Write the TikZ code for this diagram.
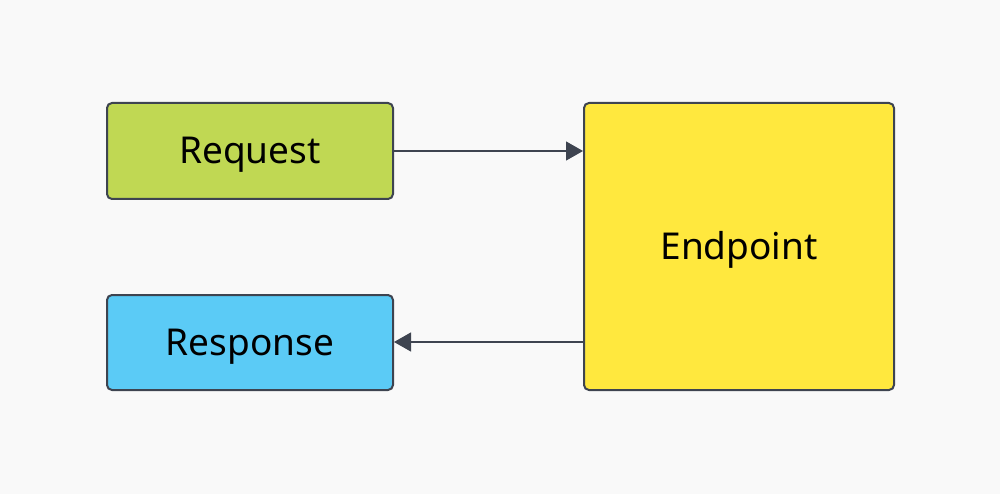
\documentclass[tikz,border=0pt]{standalone}
\usepackage{fontspec}
\setmainfont{Noto Sans}
\usetikzlibrary{arrows.meta}
\definecolor{bg}{HTML}{F9F9F9}
\definecolor{edge}{HTML}{3E4450}
\definecolor{reqfill}{HTML}{C0D853}
\definecolor{resfill}{HTML}{5BCBF6}
\definecolor{endfill}{HTML}{FFE83E}
\tikzset{
  box/.style={draw=edge, line width=2pt, rounded corners=5pt, inner sep=0pt, anchor=north west, font=\fontsize{37}{44}\selectfont, text=black, text height=26pt, text depth=0pt},
  conn/.style={draw=edge, line width=1.2pt, -{Triangle[length=17pt,width=19pt]}}
}
\begin{document}
\begin{tikzpicture}[x=1pt,y=-1pt]
\fill[bg] (0,0) rectangle (1000,494);
\useasboundingbox (0,0) rectangle (1000,494);
\node[box, fill=reqfill, minimum width=286pt, minimum height=96pt] (req) at (106,102) {Request};
\node[box, fill=resfill, minimum width=286pt, minimum height=95pt] (res) at (106,294) {Response};
\node[box, fill=endfill, minimum width=310pt, minimum height=287pt] (ep) at (583,102) {Endpoint};
\draw[conn] (req.east |- 0,151) -- (ep.west |- 0,151);
\draw[conn] (ep.west |- 0,342) -- (res.east |- 0,342);
\end{tikzpicture}
\end{document}
